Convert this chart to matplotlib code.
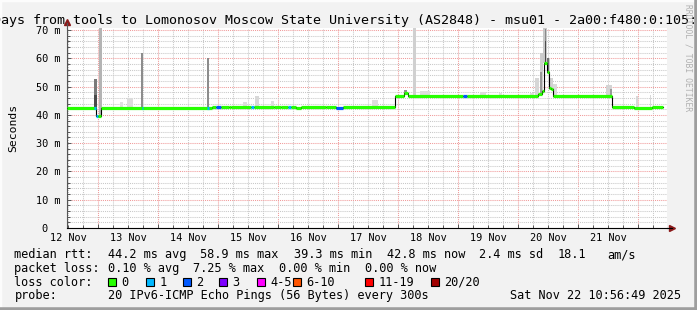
import matplotlib.pyplot as plt
import numpy as np
from matplotlib.patches import Rectangle
from matplotlib.lines import Line2D

# x unit: days since 12 Nov 00:00
# median rtt as steps: start day, value (ms), loss class
med_start = [0.479, 0.962, 0.995, 1.046, 2.896, 2.96, 3.05, 3.18, 3.21, 3.55,
             3.60, 3.93, 4.05, 4.16, 4.21, 4.29, 4.38, 4.80, 4.96, 5.08,
             5.95, 6.10, 6.16, 7.08, 7.15, 8.33, 8.40, 8.43, 8.48, 8.51,
             8.55, 8.58, 9.56, 9.93, 10.23]
med_ms = [42.3, 39.6, 39.6, 42.3, 42.9, 42.6, 42.6, 42.9, 42.6, 42.6,
          42.6, 42.9, 42.6, 42.6, 42.9, 42.3, 42.9, 42.6, 42.3, 42.9,
          46.8, 47.8, 46.8, 46.8, 46.7, 47.2, 48.4, 58.4, 55.1, 49.6,
          49.1, 46.6, 42.6, 42.3, 42.7]
med_loss = [0, 1, 0, 0, 0, 2, 0, 0, 0, 1,
            0, 0, 0, 1, 0, 0, 0, 0, 2, 0,
            0, 0, 0, 2, 0, 0, 0, 0, 0, 0,
            0, 0, 0, 0, 0]
med_end = 10.41

# single loss blips on the median
blip_day = [0.946, 1.737, 2.829]
blip_loss = [1, 1, 1]

# smoke (ping spread): centre day, width (days), top (ms), grey
smoke_day = [1.379, 1.529, 3.446, 3.646, 3.912, 5.612, 6.446, 7.412, 7.712, 8.229,
             8.312, 8.387, 8.446, 8.504, 8.554, 8.612, 9.512, 9.979, 10.196,
             1.037, 6.279, 1.737, 2.829, 6.129, 9.546, 0.954, 0.954,
             8.387, 8.454, 8.496, 8.454]
smoke_w = [0.05, 0.1, 0.067, 0.067, 0.05, 0.1, 0.167, 0.1, 0.05, 0.067,
           0.067, 0.05, 0.067, 0.05, 0.05, 0.067, 0.1, 0.017, 0.017,
           0.05, 0.05, 0.033, 0.033, 0.05, 0.033, 0.05, 0.05,
           0.033, 0.033, 0.033, 0.02]
smoke_top = [44.5, 45.9, 44.7, 46.6, 44.9, 45.2, 48.6, 48.0, 47.7, 47.6,
             53.0, 62.0, 72.0, 60.0, 53.0, 51.0, 50.5, 46.5, 47.0,
             72.0, 72.0, 61.8, 60.2, 48.8, 49.0, 52.6, 47.0,
             55.0, 70.5, 60.0, 66.0]
smoke_grey = ['#e0e0e0', '#dcdcdc', '#dddddd', '#d8d8d8', '#dddddd', '#dddddd', '#dedede', '#dddddd', '#e0e0e0', '#dddddd',
              '#d6d6d6', '#cccccc', '#c8c8c8', '#cccccc', '#d2d2d2', '#dadada', '#d4d4d4', '#d8d8d8', '#d8d8d8',
              '#b4b4b4', '#d0d0d0', '#8c8c8c', '#8c8c8c', '#909090', '#999999', '#7a7a7a', '#4a4a4a',
              '#9a9a9a', '#8a8a8a', '#707070', '#4a4a4a']

day_labels = ['12 Nov', '13 Nov', '14 Nov', '15 Nov', '16 Nov',
              '17 Nov', '18 Nov', '19 Nov', '20 Nov', '21 Nov']
y_vals = [0, 10, 20, 30, 40, 50, 60, 70]
y_labels = ['0  ', '10 m', '20 m', '30 m', '40 m', '50 m', '60 m', '70 m']

loss_names = ['0', '1', '2', '3', '4-5', '6-10', '11-19', '20/20']
loss_colors = ['#26ff00', '#00b8ff', '#0059ff', '#7e00ff', '#ff00ff', '#ff5500', '#ff0000', '#a10000']

mono = 'DejaVu Sans Mono'
W, H = 697, 310
fs = 8.55

fig = plt.figure(figsize=(6.97, 3.10), dpi=100, facecolor='#f2f2f2')
ax = fig.add_axes([67 / W, 1 - 228 / H, 600 / W, 200 / H])
ax.set_facecolor('white')
ax.set_xlim(0.479, 10.479)
ax.set_ylim(0, 70.7)

# grid
ax.set_xticks(np.arange(1, 11))
ax.set_xticks(np.arange(0.5, 10.5, 0.25), minor=True)
ax.set_yticks(y_vals)
ax.set_yticks(np.arange(0, 71, 2), minor=True)
ax.set_yticklabels(y_labels, family=mono, fontsize=7.4)
ax.set_xticklabels([])
ax.grid(which='minor', color='#c8c8c8', linestyle=(0, (1, 1)), lw=0.75)
ax.grid(which='major', color='#f09a9a', linestyle=(0, (1, 1)), lw=0.75)
ax.set_axisbelow(True)
ax.tick_params(which='both', direction='in', color='#555555', width=0.7)
ax.tick_params(which='major', length=3, pad=4.8)
ax.tick_params(which='minor', length=2)
for s in ['top', 'right']:
    ax.spines[s].set_visible(False)
ax.spines['left'].set_color('#555555')
ax.spines['bottom'].set_color('#000000')
ax.spines['left'].set_linewidth(0.8)
ax.spines['bottom'].set_linewidth(0.8)

# smoke
base = [med_ms[np.searchsorted(med_start, d, side='right') - 1] for d in smoke_day]
ax.bar(smoke_day, np.array(smoke_top) - np.array(base), bottom=base, width=smoke_w,
       color=smoke_grey, linewidth=0, zorder=2)

# median
ax.step(med_start + [med_end], med_ms + [med_ms[-1]], where='post', color='black', lw=0.8, zorder=3)
ax.hlines(med_ms, med_start, med_start[1:] + [med_end],
          colors=[loss_colors[i] for i in med_loss], lw=2.3, zorder=4)
bl = [med_ms[np.searchsorted(med_start, d, side='right') - 1] for d in blip_day]
ax.hlines(bl, np.array(blip_day) - 0.012, np.array(blip_day) + 0.012,
          colors=[loss_colors[i] for i in blip_loss], lw=2.3, zorder=5)

# axis arrows
ax.plot([0], [1.03], marker='^', ms=4, color='#8b1a1a', transform=ax.transAxes, clip_on=False)
ax.plot([1.008], [0], marker='>', ms=4, color='#8b1a1a', transform=ax.transAxes, clip_on=False)
ax.plot([0, 0], [1, 1.025], color='#555555', lw=0.8, transform=ax.transAxes, clip_on=False)
ax.plot([1, 1.008], [0, 0], color='black', lw=0.8, transform=ax.transAxes, clip_on=False)

# day labels at noon
for i, lab in enumerate(day_labels):
    ax.text(0.5 + i, -12.7 / 200, lab, transform=ax.get_xaxis_transform(),
            ha='center', va='baseline', family=mono, fontsize=7.4)

ax.set_ylabel('Seconds', family=mono, fontsize=8.2)
ax.yaxis.set_label_coords(-49 / 600, 0.5)

# title
fig.text(-71 / W, 1 - 24 / H,
         'Last 10 Days from tools to Lomonosov Moscow State University (AS2848) - msu01 - 2a00:f480:0:105::',
         ha='left', va='baseline', family=mono, fontsize=9.65)
fig.text(688 / W, 1 - 58 / H, 'RRDTOOL / TOBI OETIKER', rotation=270, ha='center', va='center',
         family=mono, fontsize=5.8, color='#b0b0b0')

# legend lines
rows = [258, 271.8, 285.6, 299.2]
line1 = [(14.5, 'median rtt:'), (107.5, '44.2 ms avg'), (200.5, '58.9 ms max'), (293.5, '39.3 ms min'),
         (386.5, '42.8 ms now'), (479, '2.4 ms sd'), (557.5, '18.1'), (607.5, 'am/s')]
line2 = [(14.5, 'packet loss:'), (107.5, '0.10 % avg'), (193.3, '7.25 % max'), (279, '0.00 % min'),
         (365, '0.00 % now')]
for xp, t in line1:
    fig.text(xp / W, 1 - rows[0] / H, t, va='baseline', family=mono, fontsize=fs)
for xp, t in line2:
    fig.text(xp / W, 1 - rows[1] / H, t, va='baseline', family=mono, fontsize=fs)
fig.text(14.5 / W, 1 - rows[2] / H, 'loss color:', va='baseline', family=mono, fontsize=fs)
box_x = [108, 146, 183, 219, 257, 293, 365, 431]
for bx, name, c in zip(box_x, loss_names, loss_colors):
    fig.add_artist(Rectangle((bx / W, 1 - 286 / H), 8 / W, 8 / H, transform=fig.transFigure,
                             facecolor=c, edgecolor='black', lw=0.8))
    fig.text((bx + 13.5) / W, 1 - rows[2] / H, name, va='baseline', family=mono, fontsize=fs)
fig.text(14.5 / W, 1 - rows[3] / H, 'probe:', va='baseline', family=mono, fontsize=fs)
fig.text(107.5 / W, 1 - rows[3] / H, '20 IPv6-ICMP Echo Pings (56 Bytes) every 300s',
         va='baseline', family=mono, fontsize=fs)
fig.text(681 / W, 1 - rows[3] / H, 'Sat Nov 22 10:56:49 2025', ha='right',
         va='baseline', family=mono, fontsize=fs)

# image frame
fig.add_artist(Line2D([0, 0, 1], [0, 1, 1], transform=fig.transFigure, color='#fcfcfc', lw=2.5))
fig.add_artist(Line2D([0, 1, 1], [0, 0, 1], transform=fig.transFigure, color='#9e9e9e', lw=4))

fig.savefig('out.png', dpi=100, facecolor=fig.get_facecolor())
